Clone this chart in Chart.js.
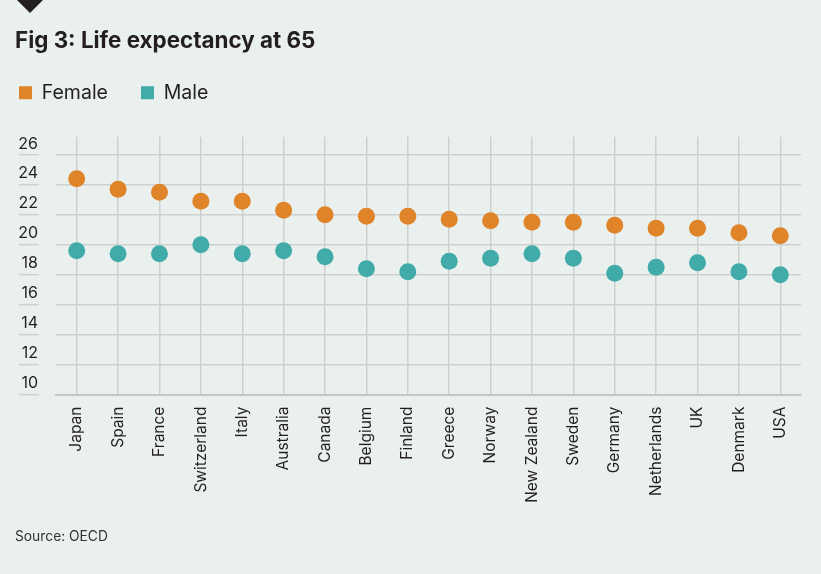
<!DOCTYPE html>
<html><head><meta charset="utf-8">
<script src="https://cdn.jsdelivr.net/npm/chart.js@4"></script>
<style>
html,body{margin:0;padding:0;background:#eaf0ee;}
body{width:821px;height:574px;position:relative;overflow:hidden;font-family:Inter,"Liberation Sans",sans-serif;}
#wrap{position:absolute;left:0;top:0;width:821px;height:574px;}
#tri{position:absolute;left:17px;top:0;width:0;height:0;border-left:13px solid transparent;border-right:13px solid transparent;border-top:13px solid #231f20;}
#title{position:absolute;left:15px;top:29px;font-size:22.4px;font-weight:700;line-height:1;color:#231f20;white-space:nowrap;}
#source{position:absolute;left:15px;top:530px;font-size:13.8px;line-height:1;color:#333;white-space:nowrap;}
</style></head>
<body>
<div id="wrap"><canvas id="c" width="821" height="574"></canvas></div>
<div id="tri"></div>
<div id="title">Fig 3: Life expectancy at 65</div>
<div id="source">Source: OECD</div>
<script>
const categories = ["Japan","Spain","France","Switzerland","Italy","Australia","Canada","Belgium","Finland","Greece","Norway","New Zealand","Sweden","Germany","Netherlands","UK","Denmark","USA"];
const female = [24.4,23.7,23.5,22.9,22.9,22.3,22.0,21.9,21.9,21.7,21.6,21.5,21.5,21.3,21.1,21.1,20.8,20.6];
const male = [19.6,19.4,19.4,20.0,19.4,19.6,19.2,18.4,18.2,18.9,19.1,19.4,19.1,18.1,18.5,18.8,18.2,18.0];
const yTicks = [10,12,14,16,18,20,22,24,26];
const seriesNames = ["Female","Male"];

const ORANGE = '#e0842a', TEAL = '#40aba8', GRID = '#cdd2d1', INK = '#231f20';
const LEG_PAD = 33, LEG_TOP = 50;

const legendHeight = {
  id: 'legendHeight',
  beforeInit(chart) {
    const orig = chart.legend.fit;
    chart.legend.fit = function () { orig.bind(chart.legend)(); this.height = 136.7 - LEG_TOP; };
  },
  beforeDraw(chart) {
    chart.legend.left = 19 - LEG_PAD;
  }
};
const yTickMarks = {
  id: 'yTickMarks',
  afterDraw(chart) {
    const y = chart.scales.y, ctx = chart.ctx;
    ctx.save();
    ctx.strokeStyle = GRID; ctx.lineWidth = 1.5;
    yTicks.forEach(v => {
      const py = y.getPixelForValue(v);
      ctx.beginPath(); ctx.moveTo(19, py); ctx.lineTo(39, py); ctx.stroke();
    });
    ctx.restore();
  }
};

new Chart(document.getElementById('c'), {
  type: 'line',
  data: {
    labels: categories,
    datasets: [
      {label: seriesNames[0], data: female, showLine: false, backgroundColor: ORANGE, borderColor: ORANGE, borderWidth: 0,
       pointRadius: 8.5, pointHoverRadius: 8.5, pointBorderWidth: 0, pointBackgroundColor: ORANGE},
      {label: seriesNames[1], data: male, showLine: false, backgroundColor: TEAL, borderColor: TEAL, borderWidth: 0,
       pointRadius: 8.5, pointHoverRadius: 8.5, pointBorderWidth: 0, pointBackgroundColor: TEAL}
    ]
  },
  options: {
    responsive: false,
    animation: false,
    devicePixelRatio: 1,
    layout: {padding: {top: LEG_TOP, left: 0, right: 20, bottom: 0}},
    plugins: {
      tooltip: {enabled: false},
      legend: {
        position: 'top', align: 'start',
        labels: {boxWidth: 13, boxHeight: 13, padding: LEG_PAD, color: INK,
                 font: {family: 'Inter', size: 19.5}}
      }
    },
    scales: {
      x: {
        offset: true,
        grid: {offset: false, color: GRID, lineWidth: 1.5, drawTicks: false},
        border: {display: true, color: '#c3c8c7', width: 2},
        ticks: {minRotation: 90, maxRotation: 90, autoSkip: false, padding: 12, color: INK,
                font: {family: 'Inter', size: 15.5}},
        afterFit(s) { s.height = 179.4; }
      },
      y: {
        min: 10, max: 27.2,
        grid: {color: GRID, lineWidth: 1.5, drawTicks: false},
        border: {display: false},
        ticks: {stepSize: 2, includeBounds: false, padding: 18, labelOffset: -11, color: INK,
                font: {family: 'Inter', size: 16}},
        afterBuildTicks(s) { s.ticks = yTicks.map(v => ({value: v})); },
        afterFit(s) { s.width = 56; }
      }
    }
  },
  plugins: [legendHeight, yTickMarks]
});
</script>
</body></html>
